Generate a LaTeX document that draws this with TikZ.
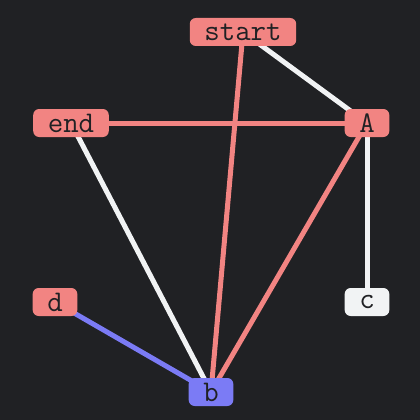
\documentclass[tikz,border=0pt]{standalone}
\usepackage{fontspec}
\usetikzlibrary{backgrounds}
\definecolor{bgdark}{HTML}{202124}
\definecolor{salmon}{HTML}{F28482}
\definecolor{softviolet}{HTML}{7B7BF5}
\definecolor{offwhite}{HTML}{F1F3F4}

\begin{document}
\begin{tikzpicture}[x=1pt, y=-1pt,
    vert/.style={rectangle, fill=salmon, rounded corners=6pt, text=bgdark,
                 font=\ttfamily\fontsize{30}{30}\selectfont,
                 inner xsep=14.6pt, inner ysep=0pt, minimum height=28pt},
    link/.style={line width=5pt},
    hot/.style={link, salmon},
    cold/.style={link, offwhite}
]
\useasboundingbox (0,0) rectangle (420,420);

\node[vert] (start) at (243,32) {start};
\node[vert] (end) at (71,123) {end};
\node[vert] (A) at (367,123) {A};
\node[vert] (d) at (55,302) {d};
\node[vert, fill=offwhite] (c) at (367,302) {c};
\node[vert, fill=softviolet] (b) at (211,392) {b};

\begin{scope}[on background layer]
\fill[bgdark] (0,0) rectangle (420,420);
\draw[cold] (start.center) -- (A.center);
\draw[cold] (end.center) -- (b.center);
\draw[cold] (A.center) -- (c.center);
\draw[hot] (end.center) -- (A.center);
\draw[hot] (start.center) -- (b.center);
\draw[hot] (A.center) -- (b.center);
\draw[link, softviolet] (d.center) -- (b.center);
\end{scope}
\end{tikzpicture}
\end{document}
